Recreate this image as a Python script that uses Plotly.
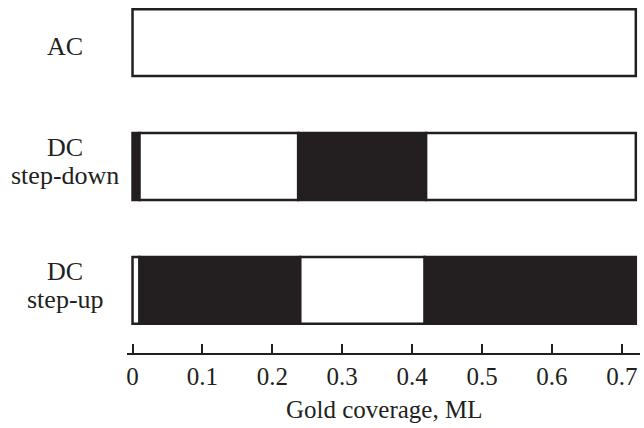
import plotly.graph_objects as go

# Data
row_lines = [["AC"], ["DC", "step-down"], ["DC", "step-up"]]
row_pos = [2, 1, 0]
edges_ac = [0.0, 0.72]
fill_ac = ["white"]
edges_down = [0.0, 0.01, 0.237, 0.42, 0.72]
fill_down = ["black", "white", "black", "white"]
edges_up = [0.0, 0.01, 0.24, 0.418, 0.72]
fill_up = ["white", "black", "white", "black"]
tick_vals = [0, 0.1, 0.2, 0.3, 0.4, 0.5, 0.6, 0.7]
tick_text = ["0", "0.1", "0.2", "0.3", "0.4", "0.5", "0.6", "0.7"]
x_title = "Gold coverage, ML"

BLACK = "#231f20"
FONT = "Liberation Serif, Times New Roman, serif"

fig = go.Figure()
for pos, edges, fills in [(row_pos[0], edges_ac, fill_ac),
                          (row_pos[1], edges_down, fill_down),
                          (row_pos[2], edges_up, fill_up)]:
    bases = edges[:-1]
    lengths = [b - a for a, b in zip(edges[:-1], edges[1:])]
    colors = [BLACK if f == "black" else "white" for f in fills]
    fig.add_trace(go.Bar(
        y=[pos] * len(lengths), x=lengths, base=bases, orientation="h",
        width=0.54, marker=dict(color=colors, line=dict(color=BLACK, width=2.5)),
        showlegend=False, hoverinfo="skip"))

for lines, pos in zip(row_lines, row_pos):
    shifts = [-4] if len(lines) == 1 else [19, -9]
    for txt, ys in zip(lines, shifts):
        fig.add_annotation(x=0, xref="paper", xanchor="center", xshift=-62,
                           y=pos, yref="y", yanchor="middle", yshift=ys,
                           text=txt, showarrow=False,
                           font=dict(family=FONT, size=26, color=BLACK))

fig.add_annotation(x=0.5, xref="paper", xanchor="center",
                   y=0, yref="paper", yanchor="middle", yshift=-56,
                   text=x_title, showarrow=False,
                   font=dict(family=FONT, size=25, color=BLACK))

fig.update_layout(
    width=644, height=428, barmode="overlay",
    margin=dict(l=127, r=4, t=0, b=75),
    plot_bgcolor="white", paper_bgcolor="white",
    font=dict(family=FONT, size=24, color=BLACK),
    xaxis=dict(range=[-0.0079, 0.726], tickvals=tick_vals, ticktext=tick_text,
               ticks="inside", ticklen=9, tickwidth=1.5, tickcolor=BLACK,
               showline=True, linecolor=BLACK, linewidth=2, showgrid=False,
               zeroline=False, automargin=False,
               tickfont=dict(family=FONT, size=25, color=BLACK)),
    yaxis=dict(range=[-0.506, 2.344], visible=False, showgrid=False, zeroline=False),
)

fig.write_html("out.html", config={"displayModeBar": False},
               post_script="document.body.style.margin='0px';")
